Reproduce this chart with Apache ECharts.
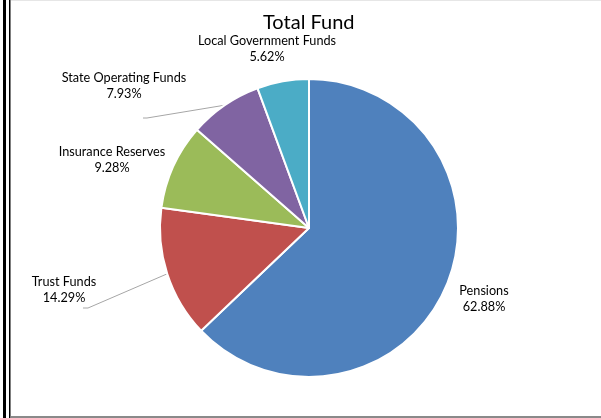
<!DOCTYPE html>
<html><head><meta charset="utf-8">
<script src="https://cdn.jsdelivr.net/npm/echarts@6/dist/echarts.min.js"></script>
<style>html,body{margin:0;padding:0;background:#fff}#c{width:601px;height:418px}</style>
</head><body><div id="c"></div>
<script>
const categories = ['Pensions', 'Trust Funds', 'Insurance Reserves', 'State Operating Funds', 'Local Government Funds'];
const percents = [62.88, 14.29, 9.28, 7.93, 5.62];
const colors = ['#4F81BD', '#C0504D', '#9BBB59', '#8064A2', '#4BACC6'];

// label placement (styling): centre of label text block, and optional leader-line end offsets
const labelPos = [
  { x: 484, y: 299, line: null },
  { x: 64, y: 290, line: [[24, 18], [19, 18]] },
  { x: 112, y: 160, line: null },
  { x: 124, y: 86, line: [[23, 32], [19, 32]] },
  { x: 267, y: 49, line: null }
];

const chart = echarts.init(document.getElementById('c'), null, { renderer: 'canvas' });
const FONT = 'Lato';
chart.setOption({
  animation: false,
  title: {
    text: 'Total Fund', left: 258, top: 8,
    textStyle: { fontFamily: FONT, fontSize: 20, fontWeight: 'normal', color: '#000' }
  },
  graphic: [
    { type: 'rect', shape: { x: 3, y: 0, width: 3, height: 418 }, style: { fill: '#000' } },
    { type: 'rect', shape: { x: 9, y: 0, width: 1.5, height: 418 }, style: { fill: '#000' } },
    { type: 'rect', shape: { x: 11, y: 0, width: 590, height: 1 }, style: { fill: '#e6e6e6' } },
    { type: 'rect', shape: { x: 11, y: 416, width: 590, height: 2 }, style: { fill: '#8a8a8a' } }
  ],
  series: [{
    type: 'pie',
    center: [309, 228],
    radius: 149,
    startAngle: 90,
    clockwise: true,
    avoidLabelOverlap: false,
    itemStyle: { borderColor: '#fff', borderWidth: 2 },
    label: {
      show: true, position: 'outside',
      formatter: p => p.name + '\n' + p.value.toFixed(2) + '%',
      fontFamily: FONT, fontSize: 12.7, color: '#000', lineHeight: 16, align: 'center'
    },
    labelLine: { show: true, length: 10, length2: 5, lineStyle: { color: '#a6a6a6', width: 1 } },
    labelLayout: function (params) {
      const lp = labelPos[params.dataIndex];
      const out = { x: lp.x, y: lp.y, align: 'center', verticalAlign: 'middle', hideOverlap: false };
      if (lp.line && params.labelLinePoints) {
        const start = params.labelLinePoints[0];
        out.labelLinePoints = [start, [lp.x + lp.line[0][0], lp.y + lp.line[0][1]], [lp.x + lp.line[1][0], lp.y + lp.line[1][1]]];
      }
      return out;
    },
    data: categories.map((c, i) => ({
      name: c, value: percents[i],
      itemStyle: { color: colors[i] },
      labelLine: { show: !!labelPos[i].line }
    }))
  }]
});
</script></body></html>
